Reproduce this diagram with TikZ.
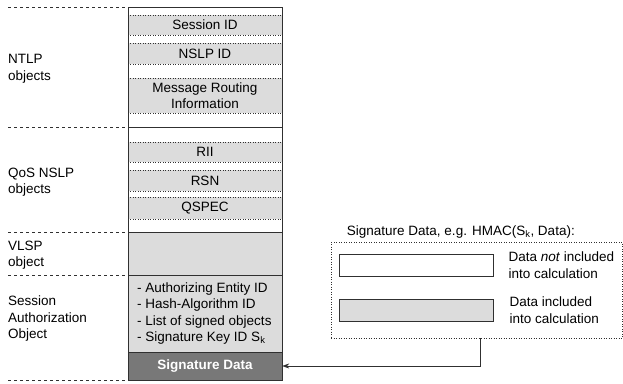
\documentclass[tikz,border=0pt]{standalone}
\usepackage{fontspec}
\setmainfont{Liberation Sans}
\usepackage{xcolor}
\usetikzlibrary{arrows.meta,positioning}
\definecolor{boxgray}{HTML}{DCDCDC}
\definecolor{sigfill}{HTML}{787878}
\definecolor{linegray}{HTML}{303030}
\tikzset{
    objfont/.style={font=\fontsize{13.5}{16.5}\selectfont},
    objbox/.style={objfont, fill=boxgray, minimum width=154pt, inner sep=0pt, align=center},
    grouplabel/.style={objfont, anchor=west, align=left, inner sep=0pt},
    sepline/.style={dashed, thick, linegray},
    dotline/.style={dotted, line width=0.5pt, linegray},
    legendbox/.style={draw=linegray, semithick, minimum width=154pt, minimum height=22pt, inner sep=0pt},
    sigarrow/.style={-{Stealth[length=7pt,width=5pt]}, linegray, semithick}
}

\begin{document}
\begin{tikzpicture}[x=1pt, y=-1pt]
        \useasboundingbox (0,0) rectangle (623,383);

        % object boxes of the message
        \node[objbox, minimum height=20pt] (sessid) at (205,25) {Session ID};
        \node[objbox, minimum height=21pt] (nslpid) at (205,53.5) {NSLP ID};
        \node[objbox, minimum height=35pt] (mri) at (205,95.5) {Message Routing\\Information};
        \node[objbox, minimum height=20pt] (rii) at (205,152) {RII};
        \node[objbox, minimum height=21pt] (rsn) at (205,180.5) {RSN};
        \node[objbox, minimum height=22pt] (qspec) at (205,208) {QSPEC};
        \node[objbox, minimum height=43pt] (vlsp) at (205,253.5) {};
        \node[objbox, minimum height=77pt] (authobj) at (205,313.5) {};
        \node[objfont, align=left, anchor=west, inner sep=0pt] (authlist) at (137,313.5)
            {- Authorizing Entity ID\\- Hash-Algorithm ID\\- List of signed objects\\- Signature Key ID S\textsubscript{k}};
        \node[objbox, minimum height=28pt, fill=sigfill, text=white, font=\fontsize{13.5}{16.5}\selectfont\bfseries] (sigdata) at (205,366) {Signature Data};

        \foreach \n in {sessid,nslpid,mri,rii,rsn,qspec} {
            \draw[dotline] (\n.north west) -- (\n.north east);
            \draw[dotline] (\n.south west) -- (\n.south east);
        }

        % message frame and section borders
        \draw[linegray, semithick] (128,7) rectangle (282,380);
        \foreach \y in {127,232,275,352}
            \draw[linegray, semithick] (128,\y) -- (282,\y);
        \foreach \y in {7,127,232,275,380}
            \draw[sepline] (8,\y) -- (227,\y);

        % group labels
        \node[grouplabel] (ntlp) at (8,69) {NTLP\\objects};
        \node[grouplabel] (qosnslp) at (8,182) {QoS NSLP\\objects};
        \node[grouplabel] (vlsplab) at (8,255) {VLSP\\object};
        \node[grouplabel] (authlab) at (8,319) {Session\\Authorization\\Object};

        % legend
        \node[draw=linegray, dotline, minimum width=291pt, minimum height=96pt, inner sep=0pt] (legend) at (476.5,290) {};
        \node[objfont, above=3pt of legend.north west, anchor=south west, xshift=16pt, inner sep=0pt] (legendtitle) {Signature Data, e.g. HMAC(S\textsubscript{k}, Data):};
        \node[legendbox, fill=white] (notincl) at (416,265) {};
        \node[legendbox, fill=boxgray] (incl) at (416,310) {};
        \node[grouplabel, right=15pt of notincl] (notincltext) {Data \textit{not} included\\into calculation};
        \node[grouplabel, right=16pt of incl] (incltext) {Data included\\into calculation};

        \draw[sigarrow] ([xshift=3.5pt]legend.south) |- (sigdata.east);
    \end{tikzpicture}
\end{document}
